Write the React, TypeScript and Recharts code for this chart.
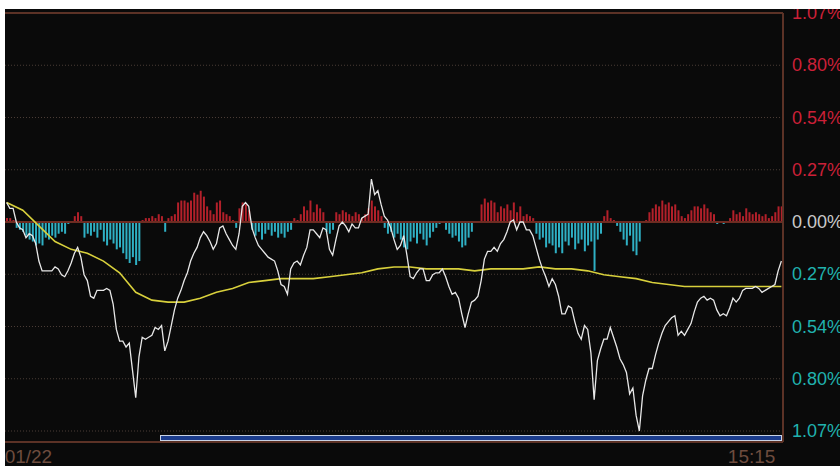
import React from "react";
import {
  ComposedChart,
  Bar,
  Line,
  XAxis,
  YAxis,
  CartesianGrid,
  ReferenceLine,
  Cell,
} from "recharts";

// intraday change vs. previous close, % (one point per minute)
const PRICE = [
  0.1, 0.07, 0.07, 0.0, -0.03, -0.04, -0.08, -0.06, -0.07, -0.11,
  -0.2, -0.25, -0.25, -0.25, -0.25, -0.23, -0.24, -0.27, -0.28, -0.25,
  -0.21, -0.16, -0.13, -0.18, -0.27, -0.3, -0.38, -0.39, -0.35, -0.35,
  -0.35, -0.34, -0.35, -0.42, -0.55, -0.61, -0.61, -0.64, -0.62, -0.76,
  -0.9, -0.69, -0.59, -0.6, -0.59, -0.58, -0.54, -0.55, -0.53, -0.66,
  -0.61, -0.53, -0.45, -0.39, -0.35, -0.3, -0.26, -0.2, -0.16, -0.13,
  -0.08, -0.05, -0.07, -0.1, -0.14, -0.11, -0.03, -0.02, -0.06, -0.09,
  -0.12, -0.14, -0.06, 0.08, 0.1, 0.08, -0.03, -0.08, -0.12, -0.14,
  -0.16, -0.18, -0.19, -0.2, -0.25, -0.32, -0.33, -0.37, -0.24, -0.21,
  -0.2, -0.22, -0.17, -0.13, -0.04, -0.04, -0.06, -0.08, -0.03, -0.04,
  -0.14, -0.17, -0.09, -0.02, 0.0, -0.02, -0.05, -0.01, -0.03, -0.03,
  0.02, 0.03, 0.04, 0.22, 0.14, 0.16, 0.09, 0.03, 0.01, -0.03,
  -0.09, -0.14, -0.12, -0.07, -0.17, -0.28, -0.29, -0.26, -0.24, -0.24,
  -0.3, -0.3, -0.27, -0.26, -0.26, -0.24, -0.28, -0.33, -0.37, -0.36,
  -0.39, -0.47, -0.54, -0.47, -0.41, -0.4, -0.38, -0.3, -0.19, -0.15,
  -0.15, -0.13, -0.15, -0.11, -0.09, -0.05, 0.0, 0.01, -0.04, 0.0,
  0.0, -0.04, -0.04, -0.07, -0.13, -0.19, -0.24, -0.28, -0.33, -0.29,
  -0.32, -0.38, -0.47, -0.47, -0.43, -0.44, -0.51, -0.57, -0.6, -0.53,
  -0.55, -0.67, -0.91, -0.71, -0.65, -0.6, -0.6, -0.54, -0.59, -0.64,
  -0.7, -0.73, -0.77, -0.88, -0.85, -0.99, -1.07, -0.89, -0.81, -0.75,
  -0.75, -0.68, -0.62, -0.57, -0.53, -0.51, -0.49, -0.48, -0.58, -0.56,
  -0.58, -0.55, -0.52, -0.46, -0.41, -0.39, -0.38, -0.4, -0.39, -0.4,
  -0.45, -0.48, -0.47, -0.48, -0.44, -0.39, -0.41, -0.39, -0.35, -0.34,
  -0.34, -0.34, -0.33, -0.34, -0.36, -0.35, -0.34, -0.33, -0.32, -0.25,
  -0.2,
];

// average price line, read every 5 minutes
const AVG_STEP = 5;
const AVG = [
  0.1, 0.06, -0.02, -0.1, -0.14, -0.16, -0.2, -0.26, -0.36, -0.4,
  -0.41, -0.41, -0.39, -0.36, -0.34, -0.31, -0.3, -0.29, -0.29, -0.29,
  -0.28, -0.27, -0.26, -0.24, -0.23, -0.23, -0.24, -0.24, -0.24, -0.25,
  -0.24, -0.24, -0.24, -0.23, -0.24, -0.24, -0.25, -0.27, -0.28, -0.29,
  -0.31, -0.32, -0.33, -0.33, -0.33, -0.33, -0.33, -0.33, -0.33,
];

// red / cyan bars around the zero line
const FLOW = [
  0.02, 0.02, 0.01, -0.03, -0.04, -0.05, -0.07, -0.09, -0.1, -0.12,
  -0.11, -0.12, -0.08, -0.09, -0.07, -0.08, -0.06, -0.05, -0.06, -0.01,
  0.0, 0.03, 0.05, 0.03, -0.08, -0.06, -0.07, -0.05, -0.08, -0.04,
  -0.1, -0.12, -0.09, -0.11, -0.14, -0.13, -0.16, -0.19, -0.21, -0.18,
  -0.22, -0.2, 0.01, 0.02, 0.02, 0.03, 0.02, 0.04, 0.03, -0.05,
  0.02, 0.03, 0.04, 0.1, 0.11, 0.11, 0.1, 0.11, 0.15, 0.14,
  0.16, 0.13, 0.08, 0.06, 0.04, 0.1, 0.11, 0.05, 0.04, 0.03,
  0.01, -0.03, 0.07, 0.1, 0.09, 0.06, -0.04, -0.07, -0.05, -0.09,
  -0.06, -0.04, -0.07, -0.05, -0.08, -0.06, -0.08, -0.05, -0.04, 0.02,
  0.01, 0.04, 0.08, 0.06, 0.11, 0.05, 0.09, 0.07, 0.05, -0.05,
  -0.06, -0.04, 0.05, 0.04, 0.06, 0.05, 0.04, 0.03, 0.05, 0.04,
  0.02, 0.04, 0.07, 0.11, 0.08, 0.06, 0.03, -0.03, -0.06, -0.05,
  -0.08, -0.06, -0.09, -0.13, -0.14, -0.1, -0.08, -0.11, -0.06, -0.09,
  -0.12, -0.08, -0.05, -0.03, -0.01, 0.0, -0.04, -0.06, -0.08, -0.07,
  -0.1, -0.13, -0.12, -0.08, -0.05, 0.0, 0.0, 0.09, 0.12, 0.1,
  0.11, 0.1, 0.05, 0.08, 0.07, 0.09, 0.06, 0.1, 0.05, 0.08,
  0.03, 0.04, 0.03, 0.02, -0.06, -0.09, -0.08, -0.13, -0.11, -0.12,
  -0.16, -0.13, -0.16, -0.1, -0.12, -0.08, -0.14, -0.11, -0.09, -0.15,
  -0.12, -0.1, -0.25, -0.09, -0.06, 0.03, 0.06, 0.02, 0.01, -0.02,
  -0.05, -0.09, -0.12, -0.07, -0.15, -0.17, -0.1, 0.0, 0.01, 0.05,
  0.07, 0.09, 0.08, 0.11, 0.09, 0.1, 0.08, 0.09, 0.06, 0.03,
  0.02, 0.04, 0.06, 0.08, 0.08, 0.07, 0.09, 0.07, 0.05, 0.04,
  -0.01, 0.0, -0.01, 0.0, 0.02, 0.06, 0.04, 0.05, 0.03, 0.07,
  0.05, 0.04, 0.05, 0.04, 0.03, 0.04, 0.02, 0.03, 0.05, 0.08,
  0.08,
];

const Y_TICKS = [1.07, 0.8025, 0.535, 0.2675, 0, -0.2675, -0.535, -0.8025, -1.07];
const Y_LABELS = ["1.07%", "0.80%", "0.54%", "0.27%", "0.00%", "0.27%", "0.54%", "0.80%", "1.07%"];
const X_TICKS = [0, 240];
const X_LABELS = ["01/22", "15:15"];

const UP = "#b3202a";
const DOWN = "#2fb0c4";
const BORDER = "#5c3226";

const YTick = (props: any) => {
  const { x, y, payload } = props;
  const v = payload.value;
  const i = Y_TICKS.indexOf(v);
  const fill = v > 0 ? "#cc2038" : v < 0 ? "#20b2ae" : "#cacaca";
  return (
    <text x={x} y={y} dy={6} textAnchor="start" fill={fill} fontSize={18}>
      {Y_LABELS[i]}
    </text>
  );
};

const XTick = (props: any) => {
  const { x, y, payload } = props;
  const i = X_TICKS.indexOf(payload.value);
  const first = i === 0;
  return (
    <text
      x={first ? x - 2 : x - 6}
      y={y}
      dy={13}
      textAnchor={first ? "start" : "end"}
      fill="#6e4c3e"
      fontSize={19}
    >
      {X_LABELS[i]}
    </text>
  );
};

export default function App() {
  const data = PRICE.map((p, i) => ({
    t: i,
    price: p,
    avg: i % AVG_STEP === 0 ? AVG[i / AVG_STEP] : null,
    flow: FLOW[i],
  }));

  return (
    <div
      style={{
        position: "absolute",
        left: 0,
        top: 0,
        width: 840,
        height: 466,
        background: "#fff",
        fontFamily: "'Liberation Sans', Arial, sans-serif",
      }}
    >
      <div
        style={{
          position: "absolute",
          left: 5,
          top: 9,
          width: 835,
          height: 457,
          background: "#0a0a0a",
          overflow: "hidden",
        }}
      >
        <ComposedChart
          width={835}
          height={457}
          data={data}
          margin={{ top: 4, right: 0, bottom: 0, left: 0 }}
          barCategoryGap={0}
        >
          <CartesianGrid vertical={false} stroke="#4a3c36" strokeDasharray="1 2" />
          <XAxis
            dataKey="t"
            ticks={X_TICKS}
            interval={0}
            height={24}
            tickLine={false}
            axisLine={{ stroke: BORDER, strokeWidth: 2 }}
            tick={<XTick />}
          />
          <YAxis
            orientation="right"
            width={57}
            type="number"
            domain={[-1.1263, 1.07]}
            ticks={Y_TICKS}
            interval={0}
            allowDataOverflow
            tickLine={false}
            tickSize={0}
            tickMargin={9}
            axisLine={{ stroke: BORDER, strokeWidth: 2 }}
            tick={<YTick />}
          />
          <ReferenceLine y={1.07} stroke={BORDER} strokeWidth={2} />
          <ReferenceLine y={0} stroke="#6e2c22" strokeWidth={2} />
          <Bar dataKey="flow" barSize={2} isAnimationActive={false}>
            {data.map((d, i) => (
              <Cell key={i} fill={d.flow >= 0 ? UP : DOWN} />
            ))}
          </Bar>
          <Line
            type="linear"
            dataKey="avg"
            stroke="#d8d03c"
            strokeWidth={1.6}
            dot={false}
            connectNulls
            isAnimationActive={false}
          />
          <Line
            type="linear"
            dataKey="price"
            stroke="#e8e8e8"
            strokeWidth={1.3}
            dot={false}
            isAnimationActive={false}
          />
        </ComposedChart>
        <div
          style={{
            position: "absolute",
            left: 155,
            top: 426,
            width: 620,
            height: 4,
            border: "1px solid #c8d2e4",
            background: "#1c3c8c",
          }}
        />
      </div>
    </div>
  );
}
